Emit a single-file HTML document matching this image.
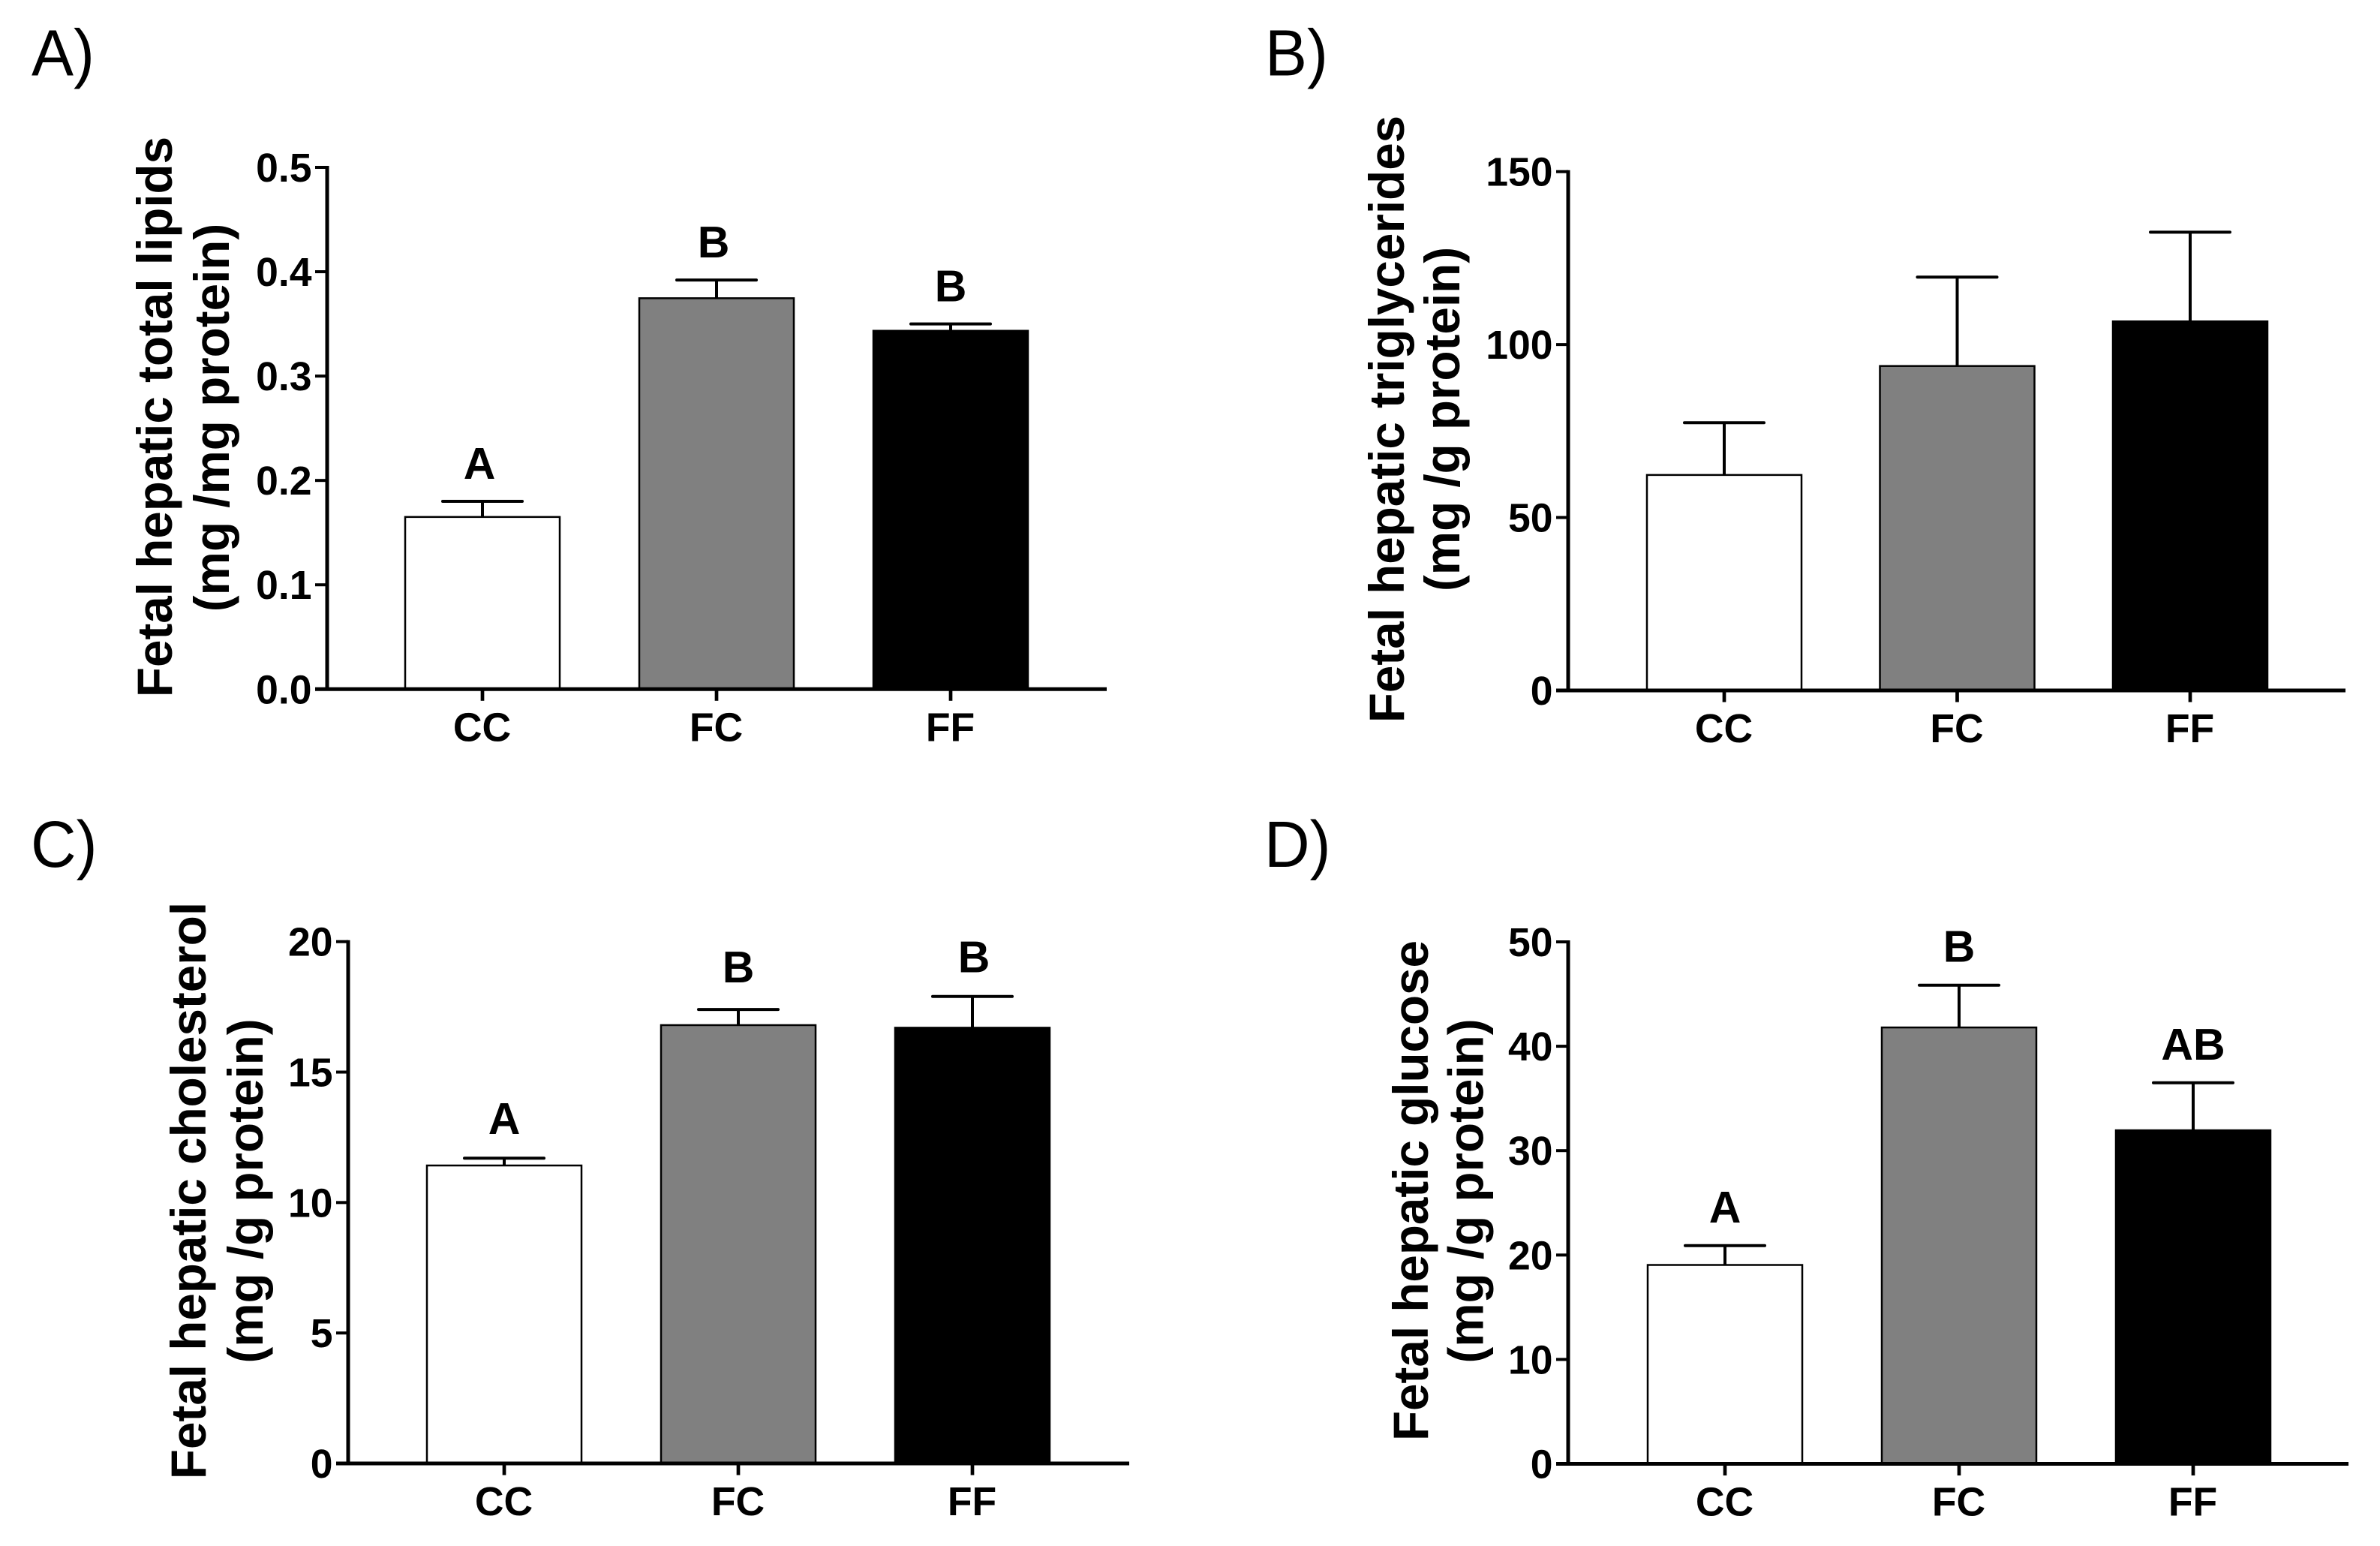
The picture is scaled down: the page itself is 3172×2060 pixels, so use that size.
<!DOCTYPE html>
<html lang="en">
<head>
<meta charset="utf-8">
<title>Fetal hepatic metabolites</title>
<style>
html,body{margin:0;padding:0;background:#fff;}
svg{display:block;}
text{font-family:"Liberation Sans",Arial,sans-serif;fill:#000;}
.title{font-weight:bold;font-size:65.6px;text-anchor:middle;}
.panel{font-weight:normal;font-size:84px;}
.tick{font-weight:bold;font-size:53.5px;}
.sig{font-weight:bold;font-size:59px;text-anchor:middle;}
</style>
</head>
<body>
<svg id="figure" xmlns="http://www.w3.org/2000/svg" width="3172" height="2060" viewBox="0 0 3172 2060">
  <rect x="0" y="0" width="3172" height="2060" fill="#fff"/>
  <text class="panel" transform="translate(42 100.5) scale(1 1.04)">A)</text>
  <text class="panel" transform="translate(1686 100.5) scale(1 1.04)">B)</text>
  <text class="panel" transform="translate(41 1155) scale(1 1.04)">C)</text>
  <text class="panel" transform="translate(1685 1155) scale(1 1.04)">D)</text>
  <text class="title" transform="translate(229 555.5) rotate(-90)">Fetal hepatic total lipids</text>
  <text class="title" transform="translate(305 556.5) rotate(-90)">(mg /mg protein)</text>
  <text class="title" transform="translate(1871 558.5) rotate(-90)">Fetal hepatic triglycerides</text>
  <text class="title" transform="translate(1945 558.5) rotate(-90)">(mg /g protein)</text>
  <text class="title" transform="translate(274 1586.5) rotate(-90)">Fetal hepatic cholesterol</text>
  <text class="title" transform="translate(350 1587) rotate(-90)">(mg /g protein)</text>
  <text class="title" transform="translate(1903 1586.5) rotate(-90)">Fetal hepatic glucose</text>
  <text class="title" transform="translate(1976.5 1587) rotate(-90)">(mg /g protein)</text>
</svg>
<script>
const categories = ['CC', 'FC', 'FF'];
const barFills = ['#ffffff', '#808080', '#000000'];

const panelATicks = ['0.0', '0.1', '0.2', '0.3', '0.4', '0.5'];
const panelAValues = [0.165, 0.3746, 0.3434];
const panelAErrorTops = [0.18, 0.392, 0.35];
const panelASignificance = ['A', 'B', 'B'];

const panelBTicks = ['0', '50', '100', '150'];
const panelBValues = [62.3, 93.8, 106.7];
const panelBErrorTops = [77.4, 119.5, 132.5];
const panelBSignificance = ['', '', ''];

const panelCTicks = ['0', '5', '10', '15', '20'];
const panelCValues = [11.42, 16.8, 16.7];
const panelCErrorTops = [11.7, 17.4, 17.9];
const panelCSignificance = ['A', 'B', 'B'];

const panelDTicks = ['0', '10', '20', '30', '40', '50'];
const panelDValues = [19.05, 41.8, 31.95];
const panelDErrorTops = [20.9, 45.85, 36.5];
const panelDSignificance = ['A', 'B', 'AB'];

const svgNS = 'http://www.w3.org/2000/svg';
const figure = document.getElementById('figure');

function make(parent, tag, attrs, text) {
  const el = document.createElementNS(svgNS, tag);
  for (const key in attrs) el.setAttribute(key, attrs[key]);
  if (text !== undefined) el.textContent = text;
  parent.appendChild(el);
  return el;
}

function drawPanel(id, frame, ticks, values, errorTops, significance) {
  const group = make(figure, 'g', {});
  
  

  const yMax = Number(ticks[ticks.length - 1]);
  const yOf = v => frame.zeroY - (v / yMax) * (frame.zeroY - frame.topY);
  const xOf = i => frame.firstX + i * frame.stepX;
  const barW = 206;
  const capW = 106;

  categories.forEach((cat, i) => {
    const cx = xOf(i);
    const top = yOf(values[i]);
    const errY = yOf(errorTops[i]);

    const stem = make(group, 'line', {x1: cx, x2: cx, y1: errY, y2: top, stroke: '#000', 'stroke-width': 4});
    
    

    const cap = make(group, 'line', {x1: cx - capW / 2, x2: cx + capW / 2, y1: errY, y2: errY, stroke: '#000', 'stroke-width': 4, 'stroke-linecap': 'round'});
    
    

    const bar = make(group, 'rect', {x: cx - barW / 2, y: top, width: barW, height: frame.zeroY - top, fill: barFills[i], stroke: '#000', 'stroke-width': 2.5});
    
    

    if (significance[i]) {
      const sig = make(group, 'text', {class: 'sig', x: cx + frame.labelShift(i), y: errY - frame.labelLift(i)}, significance[i]);
      
      
    }

    const xTick = make(group, 'line', {x1: cx, x2: cx, y1: frame.zeroY, y2: frame.zeroY + 15.5, stroke: '#000', 'stroke-width': 4.7});
    
    

    const xLabel = make(group, 'text', {class: 'tick', x: cx - 0.5, y: frame.zeroY + 69, 'text-anchor': 'middle'}, cat);
    
    
  });

  const yAxis = make(group, 'line', {x1: frame.axisX, x2: frame.axisX, y1: frame.topY - 2, y2: frame.zeroY, stroke: '#000', 'stroke-width': 5});
  
  

  const xAxis = make(group, 'line', {x1: frame.axisX - 16, x2: frame.endX, y1: frame.zeroY, y2: frame.zeroY, stroke: '#000', 'stroke-width': 5});
  
  

  ticks.forEach(label => {
    const y = yOf(Number(label));
    const yTick = make(group, 'line', {x1: frame.axisX - 16, x2: frame.axisX, y1: y, y2: y, stroke: '#000', 'stroke-width': 4});
    
    

    const yLabel = make(group, 'text', {class: 'tick', x: frame.axisX - 20.5, y: y + 19, 'text-anchor': 'end'}, label);
    
    
  });
}

drawPanel('a', {axisX: 436, topY: 223, zeroY: 918.3, firstX: 643, stepX: 312, endX: 1475, labelShift: i => (i === 2 ? 0 : -4), labelLift: () => 30}, panelATicks, panelAValues, panelAErrorTops, panelASignificance);
drawPanel('b', {axisX: 2090, topY: 228.7, zeroY: 920, firstX: 2298, stepX: 310.5, endX: 3126, labelShift: () => 0, labelLift: () => 30}, panelBTicks, panelBValues, panelBErrorTops, panelBSignificance);
drawPanel('c', {axisX: 464, topY: 1254.7, zeroY: 1950, firstX: 672, stepX: 312, endX: 1505, labelShift: i => (i === 2 ? 2 : 0), labelLift: i => (i === 1 ? 36 : 32)}, panelCTicks, panelCValues, panelCErrorTops, panelCSignificance);
drawPanel('d', {axisX: 2090, topY: 1255, zeroY: 1950.5, firstX: 2299, stepX: 312, endX: 3130, labelShift: () => 0, labelLift: () => 31}, panelDTicks, panelDValues, panelDErrorTops, panelDSignificance);
</script>
</body>
</html>
